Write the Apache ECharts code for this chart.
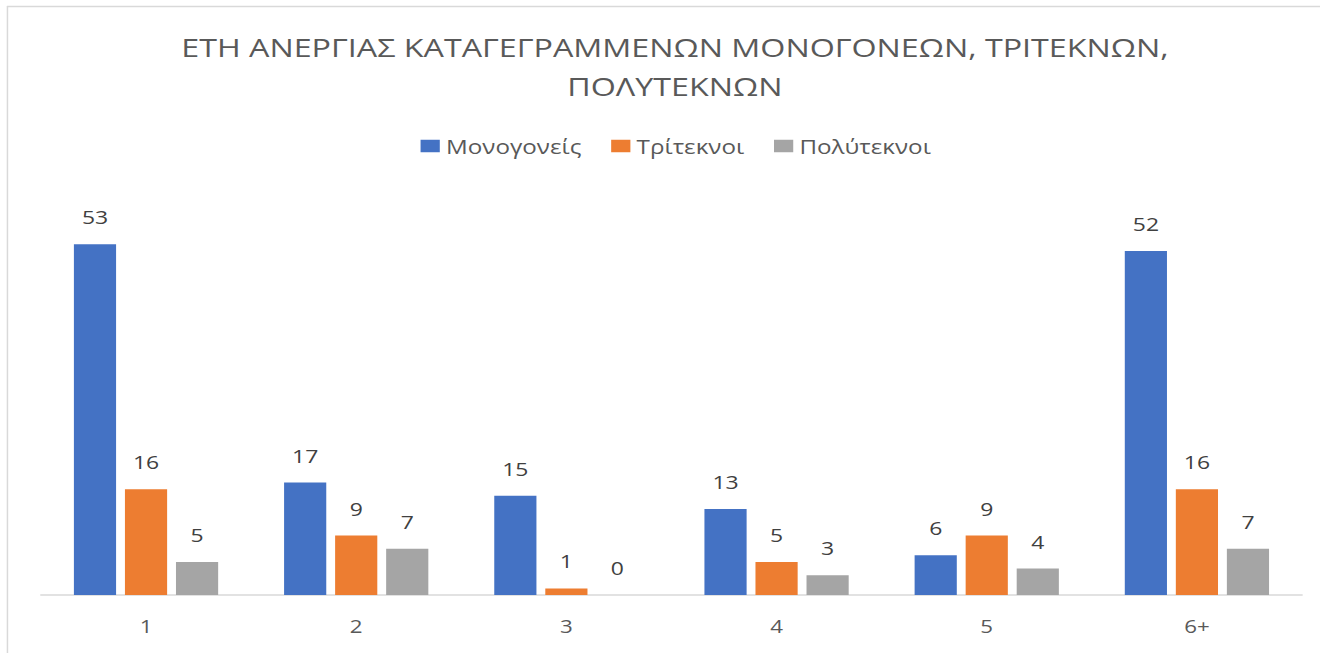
<!DOCTYPE html>
<html>
<head>
<meta charset="utf-8">
<script src="https://cdn.jsdelivr.net/npm/echarts@6/dist/echarts.min.js"></script>
<style>
html,body{margin:0;padding:0;background:#fff;overflow:hidden;width:1320px;height:653px;}
#c{width:1064px;height:653px;transform:scaleX(1.2406);transform-origin:0 0;}
</style>
</head>
<body>
<div id="c"></div>
<script>
const categories = ['1', '2', '3', '4', '5', '6+'];
const monogoneis = [53, 17, 15, 13, 6, 52];
const tritekno = [16, 9, 1, 5, 9, 16];
const polytekno = [5, 7, 0, 3, 4, 7];
const seriesNames = ['Μονογονείς', 'Τρίτεκνοι', 'Πολύτεκνοι'];
const colors = ['#4472C4', '#ED7D31', '#A5A5A5'];

const chart = echarts.init(document.getElementById('c'), null, {renderer: 'svg'});
const font = 'Open Sans';
const label = {show: true, position: 'top', distance: 17.5, color: '#404040', fontSize: 18.5, fontFamily: font};
chart.setOption({
  animation: false,
  color: colors,
  title: {
    text: 'ΕΤΗ ΑΝΕΡΓΙΑΣ ΚΑΤΑΓΕΓΡΑΜΜΕΝΩΝ ΜΟΝΟΓΟΝΕΩΝ, ΤΡΙΤΕΚΝΩΝ,\nΠΟΛΥΤΕΚΝΩΝ',
    left: 539,
    textAlign: 'center',
    top: 23,
    textStyle: {color: '#595959', fontSize: 26, fontWeight: 'normal', fontFamily: font, lineHeight: 38.5}
  },
  legend: {
    top: 131,
    left: 334,
    itemWidth: 15.5,
    itemHeight: 12.5,
    itemGap: 24,
    icon: 'rect',
    textStyle: {color: '#595959', fontSize: 19.5, fontFamily: font},
    data: seriesNames
  },
  grid: {left: 33, right: 14.5, top: 198, bottom: 58, containLabel: false},
  xAxis: {
    type: 'category',
    data: categories,
    axisLine: {lineStyle: {color: '#D9D9D9', width: 1.5}},
    axisTick: {show: false},
    axisLabel: {color: '#595959', fontSize: 18, fontFamily: font, margin: 22}
  },
  yAxis: {
    type: 'value', min: 0, max: 60, show: false,
    splitLine: {show: false}
  },
  graphic: [
    {type: 'line', shape: {x1: 5.6, y1: 6.5, x2: 1064, y2: 6.5}, style: {stroke: '#D9D9D9', lineWidth: 1.5}},
    {type: 'line', shape: {x1: 6, y1: 6, x2: 6, y2: 653}, style: {stroke: '#D9D9D9', lineWidth: 1.2}}
  ],
  series: [
    {name: seriesNames[0], type: 'bar', data: monogoneis, barWidth: 34, barGap: '21%', label: label},
    {name: seriesNames[1], type: 'bar', data: tritekno, barWidth: 34, barGap: '21%', label: label},
    {name: seriesNames[2], type: 'bar', data: polytekno, barWidth: 34, barGap: '21%', label: label}
  ]
});
</script>
</body>
</html>
